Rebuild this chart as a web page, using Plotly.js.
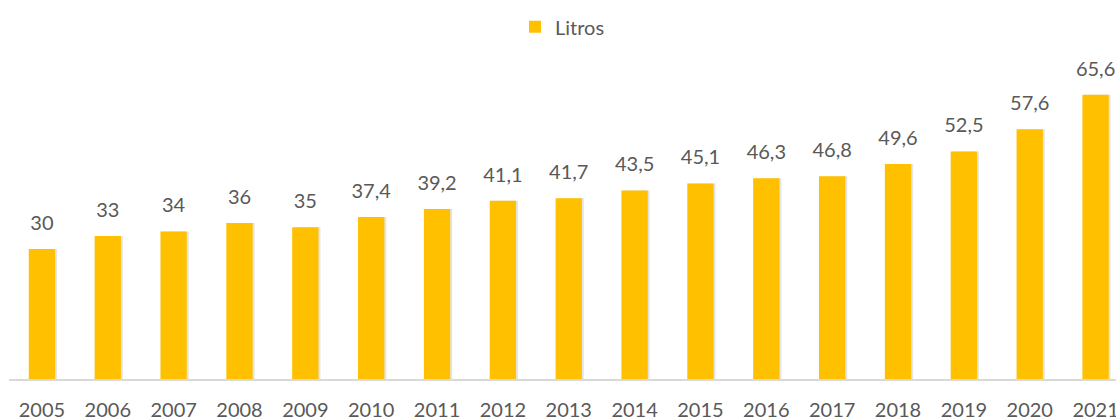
<!DOCTYPE html>
<html>
<head>
<meta charset="utf-8">
<script src="https://cdn.plot.ly/plotly-3.0.1.min.js"></script>
<style>
html,body{margin:0;padding:0;background:#fff;}
#chart{width:1116px;height:419px;}
</style>
</head>
<body>
<div id="chart"></div>
<script>
const years = ["2005","2006","2007","2008","2009","2010","2011","2012","2013","2014","2015","2016","2017","2018","2019","2020","2021"];
const litros = [30,33,34,36,35,37.4,39.2,41.1,41.7,43.5,45.1,46.3,46.8,49.6,52.5,57.6,65.6];
const seriesName = "Litros";

const FONT = "Lato, 'Open Sans', sans-serif";
const TXT = "#595959";

const labels = litros.map(v => String(v).replace(".", ","));

const data = [{
  type: "bar", x: years, y: litros, showlegend: false,
  marker: {color: "rgba(0,0,0,0.10)"}, width: 0.4, offset: -0.17, hoverinfo: "skip"
}, {
  type: "bar", x: years, y: litros, name: seriesName,
  marker: {color: "#FFC000"}, width: 0.4, offset: -0.2, hoverinfo: "x+y"
}, {
  type: "scatter", mode: "markers+text", x: years, y: litros, text: labels,
  textposition: "top center", showlegend: false, cliponaxis: false,
  marker: {size: 21, opacity: 0, color: "#fff"},
  textfont: {family: FONT, size: 20, color: TXT}, hoverinfo: "skip"
}];

const layout = {
  width: 1116, height: 419,
  margin: {l: 9, r: 0, t: 50, b: 40},
  paper_bgcolor: "#fff", plot_bgcolor: "#fff",
  separators: ", ",
  barmode: "overlay",
  showlegend: true,
  legend: {orientation: "h", x: 0.5, xanchor: "center", y: 1.13, yanchor: "top",
           font: {family: FONT, size: 20, color: TXT}},
  xaxis: {type: "category", range: [-0.5, 16.31], showgrid: false, zeroline: false,
          showline: true, linecolor: "#D9D9D9", linewidth: 1.5, ticks: "",
          ticklabelstandoff: 12,
          tickfont: {family: FONT, size: 20, color: TXT}},
  yaxis: {range: [0, 75.9], showgrid: false, zeroline: false, showline: false,
          showticklabels: false, ticks: ""}
};

Plotly.newPlot("chart", data, layout, {displayModeBar: false, staticPlot: true});
</script>
</body>
</html>
